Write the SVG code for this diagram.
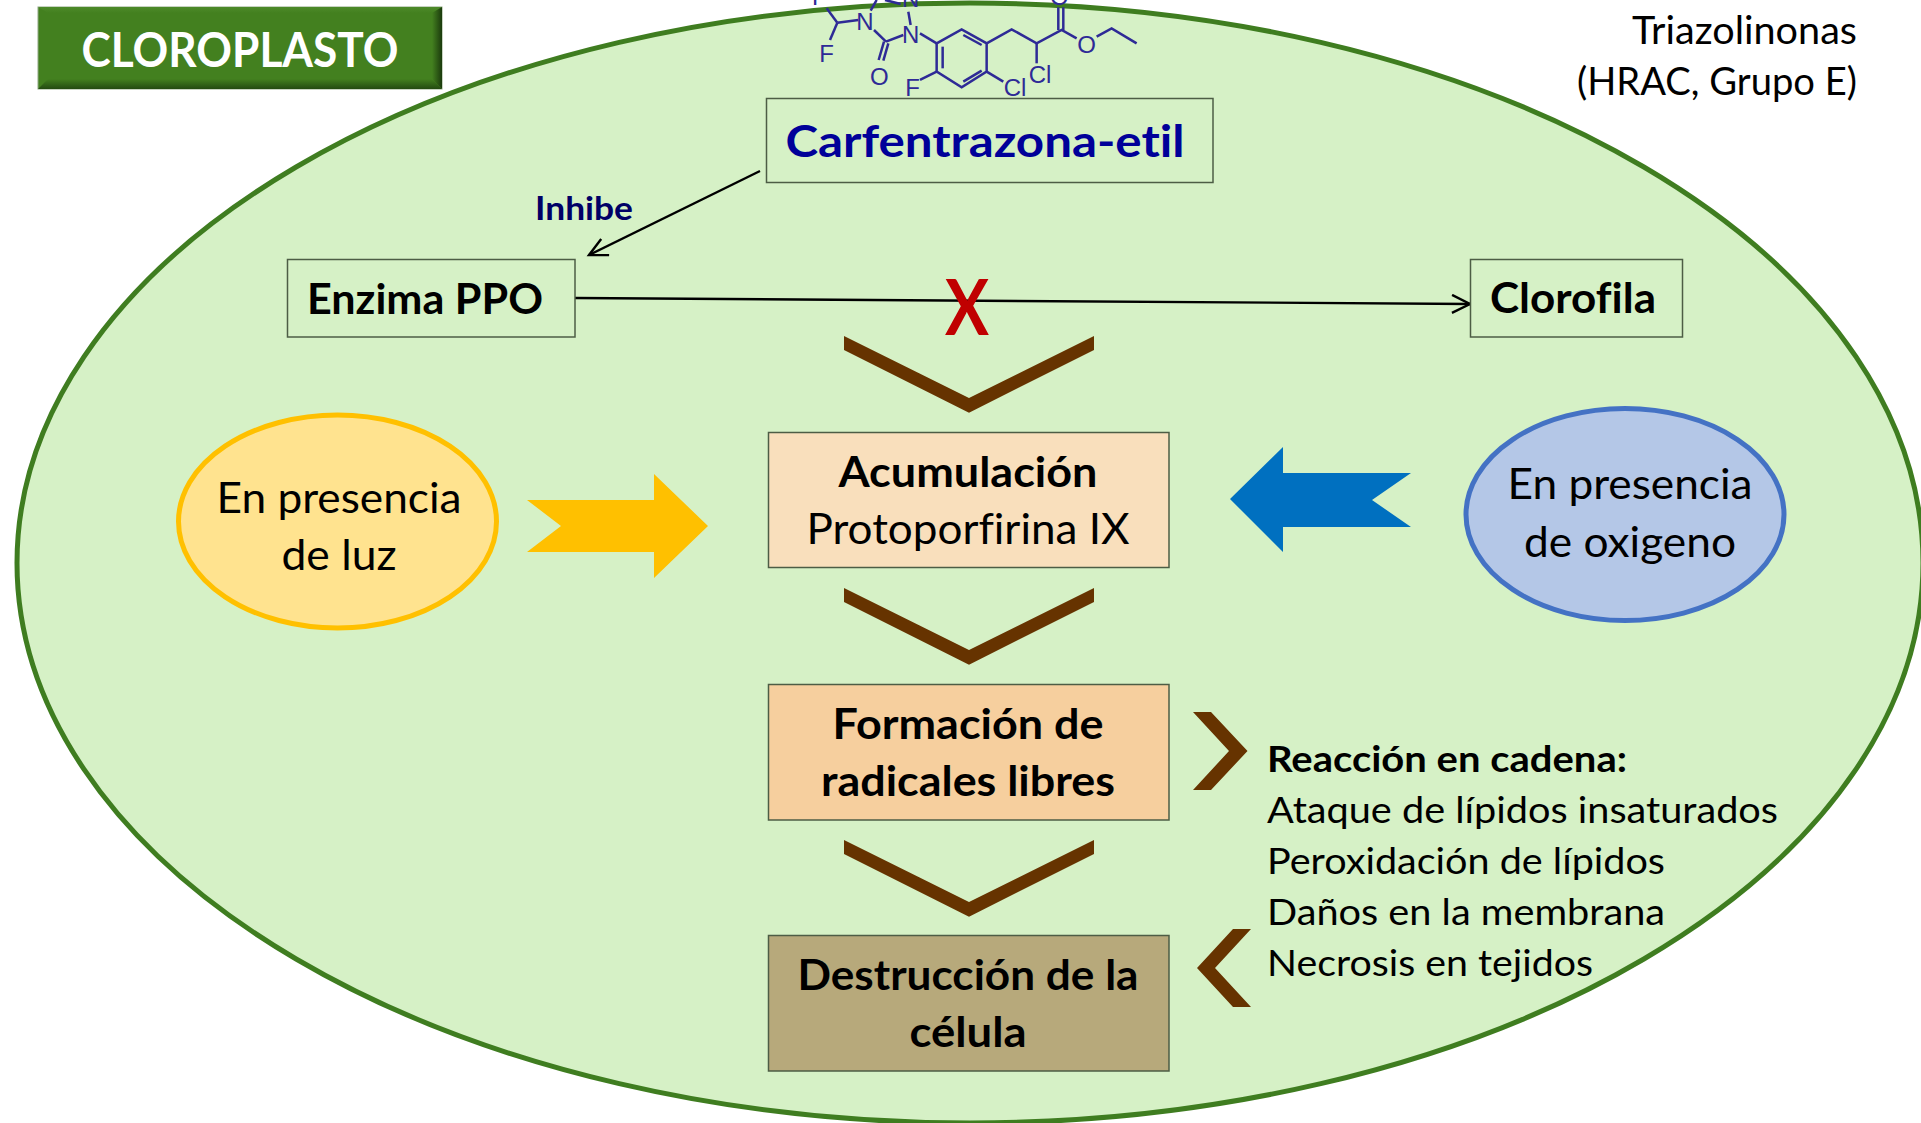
<svg xmlns="http://www.w3.org/2000/svg" width="1921" height="1123" viewBox="0 0 1921 1123">
<style>
text{font-family:"Lato","Carlito","Liberation Sans",sans-serif;fill:#000;font-variant-ligatures:none}
.b{font-weight:700}
.m{text-anchor:middle}
.lg{font-size:42px}
.box{stroke:#4d5d45;stroke-width:1.5}
.chev{fill:#663300}
.conn{fill:none;stroke:#000;stroke-width:2.4}
.mol line,.mol path{stroke:#2e2a96;stroke-width:7.500;fill:none}
.mol text{font-family:"Liberation Sans",sans-serif;fill:#2e2a96;font-size:72px;text-anchor:middle}
</style>
<defs>
<marker id="open" markerWidth="24" markerHeight="24" refX="20" refY="10" orient="auto" markerUnits="userSpaceOnUse"><path d="M2 1L20 10L2 19" fill="none" stroke="#000" stroke-width="2.4"/></marker>
<polygon id="chevd" class="chev" points="844,336 969,398 1094,336 1094,350 969,412.700 844,350"/>
<linearGradient id="bR" x1="0" x2="1" y1="0" y2="0"><stop offset="0" stop-color="#43801f"/><stop offset="1" stop-color="#1b3a0d"/></linearGradient>
<linearGradient id="bB" x1="0" x2="0" y1="0" y2="1"><stop offset="0" stop-color="#43801f"/><stop offset="1" stop-color="#234a11"/></linearGradient>
<linearGradient id="bT" x1="0" x2="0" y1="0" y2="1"><stop offset="0" stop-color="#4d8a2a"/><stop offset="1" stop-color="#43801f"/></linearGradient>
</defs>
<rect width="1921" height="1123" fill="#fff"/>
<g id="cloroplasto-membrana"><ellipse cx="970" cy="563" rx="953" ry="560" fill="#d6f1c6" stroke="#3f7d20" stroke-width="5"/></g>
<g id="titulo">
<rect x="38" y="7" width="404" height="82" fill="#43801f" stroke="#8fa884" stroke-width="1"/>
<polygon points="38,7 442,7 432,13 48,13" fill="url(#bT)"/>
<polygon points="442,7 432,13 432,79 442,89" fill="url(#bR)"/>
<polygon points="38,89 48,79 432,79 442,89" fill="url(#bB)"/>
<text x="240" y="67" class="b m" font-size="47" style="fill:#fff" textLength="317" lengthAdjust="spacingAndGlyphs">CLOROPLASTO</text>
</g>
<g id="grupo-texto">
<text x="1857" y="44" font-size="38" text-anchor="end" textLength="225" lengthAdjust="spacingAndGlyphs">Triazolinonas</text>
<text x="1857" y="95" font-size="38" text-anchor="end" textLength="280" lengthAdjust="spacingAndGlyphs">(HRAC, Grupo E)</text>
</g>
<g id="molecula" class="mol" transform="translate(780 0) scale(.3333)">
<path d="M470 130L545 88L620 130L620 215L545 262L470 215Z"/>
<line x1="488" y1="140" x2="488" y2="205"/><line x1="550" y1="105" x2="605" y2="135"/><line x1="550" y1="245" x2="605" y2="212"/>
<line x1="420" y1="100" x2="470" y2="130"/><line x1="370" y1="105" x2="318" y2="125"/><line x1="282" y1="90" x2="318" y2="125"/>
<line x1="312" y1="125" x2="296" y2="180"/><line x1="325" y1="130" x2="310" y2="182"/>
<line x1="235" y1="60" x2="172" y2="68"/><line x1="140" y1="25" x2="172" y2="68"/><line x1="172" y1="68" x2="150" y2="120"/>
<line x1="385" y1="35" x2="392" y2="75"/><line x1="272" y1="32" x2="290" y2="0"/><line x1="315" y1="0" x2="362" y2="12"/>
<path d="M620 130L695 88L770 130L845 90L890 115"/><path d="M950 110L995 85L1070 130"/>
<line x1="770" y1="130" x2="770" y2="190"/><line x1="835" y1="90" x2="835" y2="22"/><line x1="850" y1="90" x2="850" y2="22"/>
<line x1="470" y1="215" x2="420" y2="240"/><line x1="620" y1="215" x2="670" y2="245"/>
<text x="392" y="130">N</text><text x="255" y="90">N</text><text x="392" y="20">N</text><text x="298" y="255">O</text>
<text x="140" y="186">F</text><text x="118" y="16">F</text><text x="398" y="288">F</text><text x="705" y="288">Cl</text><text x="780" y="250">Cl</text><text x="920" y="160">O</text><text x="838" y="14">O</text>
</g>
<g id="connectors">
<line class="conn" x1="760" y1="171" x2="589" y2="255" marker-end="url(#open)"/>
<line class="conn" x1="575" y1="298" x2="1470" y2="304" marker-end="url(#open)"/>
</g>
<g id="carfentrazona"><rect class="box" x="766.500" y="98.500" width="446.500" height="84" fill="#d6f1c6"/><text x="985" y="157" class="b m" font-size="44" style="fill:#000099" textLength="399" lengthAdjust="spacingAndGlyphs">Carfentrazona-etil</text></g>
<text id="inhibe" x="584" y="220" class="b m" font-size="32" style="fill:#000066" textLength="98" lengthAdjust="spacingAndGlyphs">Inhibe</text>
<g id="enzima"><rect class="box" x="287.500" y="259.500" width="287.500" height="77.500" fill="#d6f1c6"/><text x="425" y="314" class="b m lg" textLength="236" lengthAdjust="spacingAndGlyphs">Enzima PPO</text></g>
<g id="clorofila"><rect class="box" x="1470.500" y="259.500" width="212" height="77.500" fill="#d6f1c6"/><text x="1573" y="313" class="b m lg" textLength="166" lengthAdjust="spacingAndGlyphs">Clorofila</text></g>
<text id="x-roja" x="967" y="335" class="b m" font-size="76" style="fill:#c00000" textLength="44" lengthAdjust="spacingAndGlyphs">X</text>
<g id="flechas">
<use href="#chevd"/><use href="#chevd" y="252"/><use href="#chevd" y="504"/>
<polygon class="chev" points="1193,712 1211,712 1247.500,751 1211,790 1193,790 1229,751"/>
<polygon class="chev" points="1233,929 1251,929 1215,968 1251,1007 1233,1007 1197,968"/>
</g>
<g id="acumulacion"><rect class="box" x="768.500" y="432.500" width="400.500" height="135" fill="#f9dfbc"/><text x="968" y="487" class="b m lg" textLength="259" lengthAdjust="spacingAndGlyphs">Acumulación</text><text x="968" y="544" class="m lg" textLength="323" lengthAdjust="spacingAndGlyphs">Protoporfirina IX</text></g>
<g id="radicales"><rect class="box" x="768.500" y="684.500" width="400.500" height="135.500" fill="#f6cf9e"/><text x="968" y="739" class="b m lg" textLength="271" lengthAdjust="spacingAndGlyphs">Formación de</text><text x="968" y="796" class="b m lg" textLength="294" lengthAdjust="spacingAndGlyphs">radicales libres</text></g>
<g id="destruccion"><rect class="box" x="768.500" y="935.500" width="400.500" height="135.500" fill="#b7a97b"/><text x="968" y="990" class="b m lg" textLength="341" lengthAdjust="spacingAndGlyphs">Destrucción de la</text><text x="968" y="1047" class="b m lg" textLength="117" lengthAdjust="spacingAndGlyphs">célula</text></g>
<g id="luz"><ellipse cx="337.500" cy="521.500" rx="159" ry="106.500" fill="#ffe38f" stroke="#ffc000" stroke-width="5"/><text x="339" y="513" class="m lg" textLength="245" lengthAdjust="spacingAndGlyphs">En presencia</text><text x="339" y="570" class="m lg" textLength="115" lengthAdjust="spacingAndGlyphs">de luz</text></g>
<polygon id="flecha-luz" fill="#ffc000" points="527,500 654,500 654,474 708,526 654,578 654,552 527,552 561,526"/>
<g id="oxigeno"><ellipse cx="1625" cy="514.500" rx="159" ry="106" fill="#b4c7e7" stroke="#4472c4" stroke-width="5"/><text x="1630" y="499" class="m lg" textLength="245" lengthAdjust="spacingAndGlyphs">En presencia</text><text x="1630" y="557" class="m lg" textLength="212" lengthAdjust="spacingAndGlyphs">de oxigeno</text></g>
<polygon id="flecha-oxigeno" fill="#0070c0" points="1230,499 1283,447 1283,473 1411,473 1372,500 1411,527 1283,527 1283,552"/>
<g id="reaccion">
<text x="1267" y="772" font-size="36" class="b" textLength="360" lengthAdjust="spacingAndGlyphs">Reacción en cadena:</text>
<text x="1267" y="823" font-size="36" textLength="511" lengthAdjust="spacingAndGlyphs">Ataque de lípidos insaturados</text>
<text x="1267" y="874" font-size="36" textLength="398" lengthAdjust="spacingAndGlyphs">Peroxidación de lípidos</text>
<text x="1267" y="925" font-size="36" textLength="398" lengthAdjust="spacingAndGlyphs">Daños en la membrana</text>
<text x="1267" y="976" font-size="36" textLength="326" lengthAdjust="spacingAndGlyphs">Necrosis en tejidos</text>
</g>
</svg>
